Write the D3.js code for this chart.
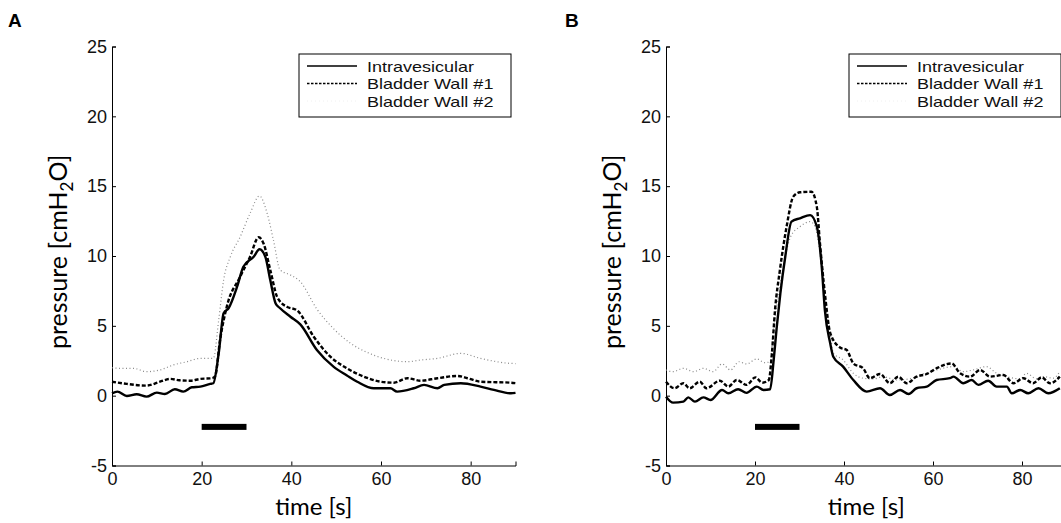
<!DOCTYPE html>
<html><head><meta charset="utf-8">
<script src="https://cdn.jsdelivr.net/npm/d3@7"></script>
<style>body{margin:0;background:#fff}svg{display:block}</style>
</head><body>
<svg id="c" width="1061" height="523"></svg>
<script>
// ---------- data ----------
const seriesNames = ["Intravesicular", "Bladder Wall #1", "Bladder Wall #2"];
const xTicks = [0, 20, 40, 60, 80];
const yTicks = [-5, 0, 5, 10, 15, 20, 25];
const stimulus = [20, 30];
const stimLevel = [-2.02, -2.45];

// Panel A
const aSolidT = [0,1.2,3.3,5.5,7.7,10,11.8,14,15.9,17.8,19.7,21.9,22.6,23.8,24.9,26,27.9,29.3,31.6,32.9,34.2,35.3,36.5,37.5,39.8,42,45.7,49.4,52.4,54.7,58.4,62.1,63.6,67.3,69.6,72.6,74.1,77.8,82.2,85.2,89,90];
const aSolidV = [0.17,0.29,-0.02,0.1,-0.07,0.22,0.12,0.46,0.29,0.6,0.65,0.84,0.89,3.03,5.9,6.26,7.8,9.23,9.95,10.48,9.95,8.28,6.6,6.26,5.65,5.1,3.27,2.08,1.45,1.0,0.53,0.53,0.29,0.53,0.77,0.53,0.77,0.89,0.65,0.41,0.17,0.2];
const aDashT = [0,3.3,7.7,10.7,13,15,17.5,19.7,22.3,23,24.1,25.6,28.6,30.8,32.7,33.8,35.3,36.8,37.5,39,41.3,45,48.7,52.4,56.2,59.9,62.9,65.9,68.8,72.6,77,79.3,82.2,89,90];
const aDashV = [1.0,0.84,0.72,1.0,1.2,1.1,1.07,1.2,1.25,1.4,3.99,6.37,8.52,9.95,11.34,10.9,9.0,7.09,6.73,6.37,6.1,4.22,2.79,1.96,1.36,1.0,0.93,1.25,1.07,1.25,1.41,1.25,1.0,0.93,0.9];
const aDotT = [0,1.8,4.8,7.7,10.7,13.7,16.7,19.7,22.6,23.8,24.9,26.4,28.6,30.8,32.9,34.6,36,37.5,39.8,42,45.7,49.4,53.2,56.9,60.6,65.9,68.8,72.6,77.8,82.2,89,90];
const aDotV = [2.0,1.96,1.96,1.72,1.84,2.2,2.43,2.67,2.67,5.42,8.28,9.95,11.38,13.06,14.3,13.06,11.15,9.0,8.64,8.16,6.2,4.8,3.75,3.1,2.67,2.43,2.55,2.67,3.03,2.67,2.31,2.3];

// Panel B
const bSolidT = [0,1.6,3.9,5,6.5,8.4,10,12.6,14,16.2,18.1,20.4,21.9,23.4,24.2,24.9,25.7,26.8,28.2,30.1,32.4,33.9,35,35.7,36.9,37.6,39.8,42.1,45.1,48.1,50.3,52.6,54.5,56.3,58.6,60.8,63.8,64.6,66.8,68.7,70.2,72.4,74.3,76.6,77.7,79.6,81.4,83.7,85.9,88.5];
const bSolidV = [-0.07,-0.5,-0.43,-0.12,-0.43,-0.12,-0.31,0.41,0.17,0.46,0.2,0.65,0.41,0.46,2.56,4.94,7.33,9.95,12.46,12.7,12.93,12.1,9.23,6.13,3.75,2.79,2.08,1.12,0.29,0.53,0.05,0.41,0.12,0.53,0.65,1.12,1.25,1.36,0.89,1.12,0.77,1.07,0.65,0.65,0.17,0.41,0.17,0.53,0.17,0.53];
const bDashT = [0,1.9,3.9,5.3,7.6,9.1,12.1,14,15.9,18.1,20.1,21.6,23.1,23.8,24.5,25.6,27.1,28.6,30.1,32.7,33.9,34.6,35.7,36.9,39.1,40.6,42.1,44.3,45.8,48.1,50.3,52.2,54.1,56.3,58.6,60.8,64.2,66.1,68.3,70.6,72.8,75.8,78.1,80.3,82.5,84.4,86.3,88.5];
const bDashV = [1.0,0.53,0.89,0.53,1.0,0.53,1.07,0.65,1.12,0.77,1.31,0.93,1.12,3.03,6.13,9.0,12.1,14.25,14.56,14.6,13.5,10.9,7.33,4.5,3.45,3.27,2.31,1.96,1.25,1.55,0.89,1.36,0.89,1.36,1.55,1.96,2.31,1.6,1.36,1.84,1.36,1.48,0.89,1.25,0.89,1.31,0.89,1.36];
const bDotT = [0,1.6,3.9,6.2,8.4,10.6,12.6,14.5,16.4,18.1,20.4,22.2,23.4,24.2,25.4,26.5,28,30.1,32.4,33.5,34.6,35.7,36.9,37.6,39.8,42.1,44.3,46.6,48.8,51.8,55.5,57.8,60.8,64.6,66.8,69,72,74.3,76.6,79.6,81,83.3,84.8,87,88.5];
const bDotV = [1.84,1.72,1.96,1.72,1.96,1.72,2.27,1.84,2.43,2.27,2.63,2.36,2.43,4.94,7.33,9.47,11.38,12.1,12.46,12.1,10.19,6.85,4.47,3.03,2.56,1.6,1.25,1.2,1.36,1.12,1.25,1.55,1.84,2.08,1.72,1.84,2.08,1.6,1.36,1.2,1.6,1.2,1.36,1.25,1.72];

// ---------- drawing ----------
const svg = d3.select("#c");
const tickFont = "'Liberation Sans', Arial, sans-serif";
const labelFont = "Lato, 'Open Sans', sans-serif";

const styles = [
  {stroke:"#000", width:2.4, dash:null},
  {stroke:"#000", width:2.4, dash:"4,2"},
  {stroke:"#8a8a8a", width:1.2, dash:"1,2.5"}
];

function panel(opt) {
  const x = d3.scaleLinear().domain([0, 90]).range([opt.x0, opt.x1]);
  const y = d3.scaleLinear().domain([-5, 25]).range([465.5, 46.5]);
  const g = svg.append("g");

  // axes
  const xAx = g.append("g").attr("transform", `translate(0,${y(-5)})`)
    .call(d3.axisBottom(x).tickValues(xTicks).tickSize(-4).tickPadding(7).tickFormat(d3.format("d")));
  const yAx = g.append("g").attr("transform", `translate(${x(0)},0)`)
    .call(d3.axisLeft(y).tickValues(yTicks).tickSize(-4).tickPadding(5).tickFormat(d => d < 0 ? "-" + Math.abs(d) : d));
  [xAx, yAx].forEach(a => {
    a.select(".domain").attr("stroke", "#000").attr("stroke-width", 1);
    a.selectAll(".tick line").attr("stroke", "#000");
    a.selectAll("text").attr("font-family", tickFont).attr("font-size", 18).attr("fill", "#111");
  });
  xAx.selectAll("text").attr("dy", "0.72em");

  // axis labels
  g.append("text").attr("x", (x(0) + x(90)) / 2).attr("y", 515)
    .attr("text-anchor", "middle").attr("font-family", labelFont).attr("font-size", 24)
    .text("time [s]");
  const yl = g.append("text").attr("transform", `translate(${x(0) - 45},${y(10.3)}) rotate(-90)`)
    .attr("text-anchor", "middle").attr("font-family", labelFont).attr("font-size", 25);
  yl.append("tspan").text("pressure [cmH");
  yl.append("tspan").attr("font-size", 17).attr("dy", 6).text("2");
  yl.append("tspan").attr("dy", -6).text("O]");

  // panel letter
  g.append("text").attr("x", opt.lx).attr("y", 27).attr("font-family", tickFont)
    .attr("font-weight", "bold").attr("font-size", 19).text(opt.letter);

  // stimulus bar
  g.append("rect").attr("x", x(stimulus[0])).attr("width", x(stimulus[1]) - x(stimulus[0]))
    .attr("y", y(stimLevel[0])).attr("height", y(stimLevel[1]) - y(stimLevel[0])).attr("fill", "#000");

  // lines
  const line = d3.line().x(d => x(d[0])).y(d => y(d[1])).curve(d3.curveMonotoneX);
  [2, 1, 0].forEach(i => {
    const [ts, vs] = opt.series[i];
    const pts = ts.map((t, k) => [t, vs[k]]);
    const p = g.append("path").datum(pts).attr("d", line).attr("fill", "none")
      .attr("stroke", styles[i].stroke).attr("stroke-width", styles[i].width)
      .attr("stroke-linejoin", "round");
    if (styles[i].dash) p.attr("stroke-dasharray", styles[i].dash);
  });

  // legend
  const lg = g.append("g");
  lg.append("rect").attr("x", opt.legX).attr("y", 54).attr("width", 212).attr("height", 63)
    .attr("fill", "#fff").attr("stroke", "#000").attr("stroke-width", 1);
  seriesNames.forEach((name, i) => {
    const cy = 66 + i * 17.5;
    const l = lg.append("line").attr("x1", opt.legX + 8).attr("x2", opt.legX + 58)
      .attr("y1", cy).attr("y2", cy)
      .attr("stroke", i === 2 ? "#ececec" : styles[i].stroke)
      .attr("stroke-width", i === 2 ? 0.8 : 1.6);
    if (styles[i].dash) l.attr("stroke-dasharray", i === 1 ? "2.5,1.5" : "1,3");
    const t = lg.append("text").attr("x", opt.legX + 68).attr("y", cy + 5.5)
      .attr("font-family", tickFont).attr("font-size", 15).attr("fill", "#111").text(name);
    const w = t.node().getComputedTextLength();
    t.attr("textLength", w * 1.2).attr("lengthAdjust", "spacingAndGlyphs");
  });
}

panel({x0:112, x1:515.5, letter:"A", lx:8, legX:299,
  series:[[aSolidT,aSolidV],[aDashT,aDashV],[aDotT,aDotV]]});
panel({x0:666, x1:1066.5, letter:"B", lx:565, legX:849,
  series:[[bSolidT,bSolidV],[bDashT,bDashV],[bDotT,bDotV]]});
</script>
</body></html>
